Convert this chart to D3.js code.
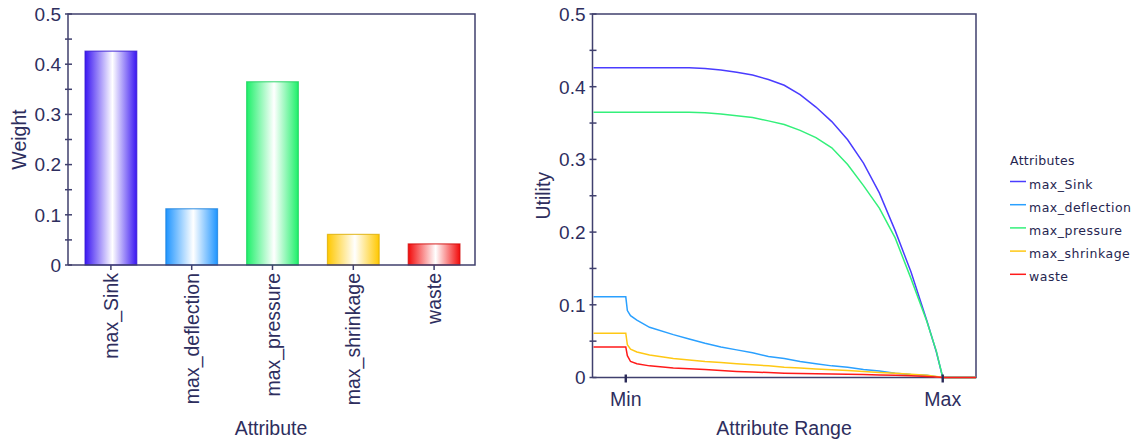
<!DOCTYPE html>
<html>
<head>
<meta charset="utf-8">
<script src="https://cdn.jsdelivr.net/npm/d3@7"></script>
<style>
  html, body { margin: 0; padding: 0; background: #ffffff; }
  svg { display: block; }
  text { font-family: "Liberation Sans", Arial, sans-serif; fill: #2e2e5e; }
  .legend text { font-family: "DejaVu Sans", Verdana, sans-serif; fill: #262650; }
</style>
</head>
<body>
<svg id="chart" width="1141" height="444"></svg>
<script>
// Attribute weights (left panel)
const attributes = ["max_Sink", "max_deflection", "max_pressure", "max_shrinkage", "waste"];
const weights = [0.426, 0.112, 0.365, 0.061, 0.042];
const colors = ["#3a16f2", "#1f95ff", "#1ef06a", "#ffc800", "#f20a0a"];
const lineColors = ["#4a3cff", "#2aa0ff", "#33f07a", "#ffc814", "#ff1a1a"];

// Utility curves (right panel): position within each attribute's range, 0 = Min, 1 = Max
const rangePos = [0, 0.005, 0.015, 0.035, 0.075, 0.15, 0.2, 0.25, 0.3, 0.35, 0.4, 0.45,
                  0.5, 0.55, 0.6, 0.65, 0.7, 0.75, 0.8, 0.85, 0.9, 0.95, 0.98, 1];
const utilSink = [0.426, 0.426, 0.426, 0.426, 0.426, 0.426, 0.426, 0.425, 0.423, 0.420, 0.416, 0.410,
                  0.402, 0.389, 0.372, 0.352, 0.327, 0.295, 0.254, 0.202, 0.145, 0.078, 0.035, 0];
const utilDeflection = [0.111, 0.092, 0.085, 0.079, 0.069, 0.059, 0.053, 0.047, 0.042, 0.038, 0.034, 0.029,
                        0.026, 0.022, 0.019, 0.016, 0.014, 0.011, 0.009, 0.006, 0.004, 0.003, 0.001, 0];
const utilPressure = [0.365, 0.365, 0.365, 0.365, 0.365, 0.365, 0.365, 0.364, 0.3624, 0.360, 0.3575, 0.353,
                      0.348, 0.340, 0.330, 0.316, 0.293, 0.264, 0.233, 0.192, 0.136, 0.077, 0.036, 0];
const utilShrinkage = [0.061, 0.045, 0.039, 0.035, 0.031, 0.026, 0.024, 0.022, 0.0205, 0.019, 0.0175, 0.016,
                       0.014, 0.013, 0.0118, 0.0106, 0.0095, 0.0083, 0.007, 0.0057, 0.0045, 0.003, 0.0015, 0];
const utilWaste = [0.042, 0.030, 0.022, 0.019, 0.016, 0.013, 0.012, 0.011, 0.0095, 0.0083, 0.0075, 0.0068,
                   0.006, 0.0055, 0.005, 0.0047, 0.0045, 0.004, 0.0035, 0.003, 0.0023, 0.0015, 0.0008, 0];
const utilities = [utilSink, utilDeflection, utilPressure, utilShrinkage, utilWaste];

const yTicks = [0, 0.1, 0.2, 0.3, 0.4, 0.5];
const yMinorTicks = [0.05, 0.15, 0.25, 0.35, 0.45];
const rangeTicks = [0, 1];
const rangeTickLabels = ["Min", "Max"];

const axisColor = "#40406e";
const svg = d3.select("#chart");

// Horizontal gradients: saturated edges, white highlight near the middle
const defs = svg.append("defs");
attributes.forEach((a, i) => {
  const g = defs.append("linearGradient").attr("id", "grad" + i)
    .attr("x1", "0%").attr("x2", "100%").attr("y1", "0%").attr("y2", "0%");
  g.append("stop").attr("offset", "0%").attr("stop-color", colors[i]);
  g.append("stop").attr("offset", "53%").attr("stop-color", "#ffffff");
  g.append("stop").attr("offset", "100%").attr("stop-color", colors[i]);
});

function drawFrame(g, x0, x1, y0, y1) {
  g.append("path")
    .attr("d", `M${x0},${y1}V${y0}H${x1}V${y1}H${x0}`)
    .attr("fill", "none").attr("stroke", axisColor).attr("stroke-width", 1.5);
}

function drawYAxis(g, y, x0) {
  g.selectAll(".ymaj").data(yTicks).join("line")
    .attr("x1", x0 - 3).attr("x2", x0 + 4)
    .attr("y1", d => y(d)).attr("y2", d => y(d))
    .attr("stroke", axisColor).attr("stroke-width", 1.5);
  g.selectAll(".ymin").data(yMinorTicks).join("line")
    .attr("x1", x0 - 3).attr("x2", x0 + 4)
    .attr("y1", d => y(d)).attr("y2", d => y(d))
    .attr("stroke", axisColor).attr("stroke-width", 1.5);
  g.selectAll(".ylab").data(yTicks).join("text")
    .attr("x", x0 - 7).attr("y", d => y(d)).attr("dy", "0.36em")
    .attr("text-anchor", "end").attr("font-size", 19)
    .text(d => d === 0 ? "0" : d3.format(".1f")(d));
}

// ---------- Left panel: weights ----------
const L = { x0: 68, x1: 475, y0: 14, y1: 265 };
const xBand = d3.scaleBand().domain(attributes).range([70.5, 474.5]).paddingInner(0.36).paddingOuter(0.18);
const yW = d3.scaleLinear().domain([0, 0.5]).range([L.y1, L.y0]);
const left = svg.append("g");

left.selectAll("rect.bar").data(attributes).join("rect")
  .attr("class", "bar")
  .attr("x", d => xBand(d))
  .attr("width", xBand.bandwidth())
  .attr("y", (d, i) => yW(weights[i]))
  .attr("height", (d, i) => yW(0) - yW(weights[i]))
  .attr("fill", (d, i) => `url(#grad${i})`)
  .attr("stroke", (d, i) => d3.color(colors[i]).darker(0.4))
  .attr("stroke-opacity", 0.75)
  .attr("stroke-width", 1.2);

drawFrame(left, L.x0, L.x1, L.y0, L.y1);
drawYAxis(left, yW, L.x0);

left.selectAll(".xtick").data(attributes).join("line")
  .attr("x1", d => xBand(d) + xBand.bandwidth() / 2)
  .attr("x2", d => xBand(d) + xBand.bandwidth() / 2)
  .attr("y1", L.y1).attr("y2", L.y1 + 5)
  .attr("stroke", axisColor).attr("stroke-width", 1.5);

left.selectAll(".xlab").data(attributes).join("text")
  .attr("transform", d => `translate(${xBand(d) + xBand.bandwidth() / 2},${L.y1 + 8}) rotate(-90)`)
  .attr("text-anchor", "end").attr("dy", "0.36em").attr("font-size", 19.5)
  .text(d => d);

left.append("text").attr("x", 271).attr("y", 435)
  .attr("text-anchor", "middle").attr("font-size", 19.5).text("Attribute");
left.append("text")
  .attr("transform", `translate(26,${(L.y0 + L.y1) / 2}) rotate(-90)`)
  .attr("text-anchor", "middle").attr("font-size", 19.5).text("Weight");

// ---------- Right panel: utility curves ----------
const R = { x0: 592.5, x1: 976, y0: 14, y1: 377.5 };
const xR = d3.scaleLinear().domain([-0.105, 1.105]).range([R.x0, R.x1]);
const yU = d3.scaleLinear().domain([0, 0.5]).range([R.y1, R.y0]);
const right = svg.append("g");

drawFrame(right, R.x0, R.x1, R.y0, R.y1);
drawYAxis(right, yU, R.x0);

right.append("clipPath").attr("id", "plotclip").append("rect")
  .attr("x", R.x0 + 1).attr("y", R.y0 - 2).attr("width", R.x1 - R.x0 - 1).attr("height", R.y1 - R.y0 + 4);

// Curves are drawn over the frame so the zero-level segments stay visible on the axis
const line = d3.line().x(d => xR(d[0])).y(d => yU(d[1]));
utilities.forEach((vals, i) => {
  const pts = [[xR.domain()[0], vals[0]]]
    .concat(rangePos.map((p, j) => [p, vals[j]]))
    .concat([[xR.domain()[1], 0]]);
  right.append("path").datum(pts)
    .attr("d", line)
    .attr("fill", "none")
    .attr("stroke", lineColors[i])
    .attr("stroke-width", 1.5)
    .attr("clip-path", "url(#plotclip)");
});

right.selectAll(".rtick").data(rangeTicks).join("rect")
  .attr("x", d => xR(d) - 1.2).attr("width", 2.4)
  .attr("y", R.y1 - 3).attr("height", 8)
  .attr("fill", "#2a2a58");
right.selectAll(".rlab").data(rangeTicks).join("text")
  .attr("x", d => xR(d)).attr("y", 406)
  .attr("text-anchor", "middle").attr("font-size", 19.5)
  .text((d, i) => rangeTickLabels[i]);

right.append("text").attr("x", 784).attr("y", 435)
  .attr("text-anchor", "middle").attr("font-size", 19.5).text("Attribute Range");
right.append("text")
  .attr("transform", `translate(550,${(R.y0 + R.y1) / 2}) rotate(-90)`)
  .attr("text-anchor", "middle").attr("font-size", 19.5).text("Utility");

// ---------- Legend ----------
const legend = svg.append("g").attr("class", "legend").attr("transform", "translate(1010,0)");
legend.append("text").attr("x", 0).attr("y", 165)
  .attr("font-size", 12.5).attr("letter-spacing", 0.3).text("Attributes");
const items = legend.selectAll(".item").data(attributes).join("g")
  .attr("transform", (d, i) => `translate(0,${184 + i * 23.2})`);
items.append("line").attr("x1", 0).attr("x2", 16).attr("y1", -2.5).attr("y2", -2.5)
  .attr("stroke", (d, i) => lineColors[i]).attr("stroke-width", 1.5);
items.append("text").attr("x", 19).attr("y", 0).attr("dy", "0.36em")
  .attr("font-size", 12.5).attr("letter-spacing", 0.5).text(d => d);
</script>
</body>
</html>
